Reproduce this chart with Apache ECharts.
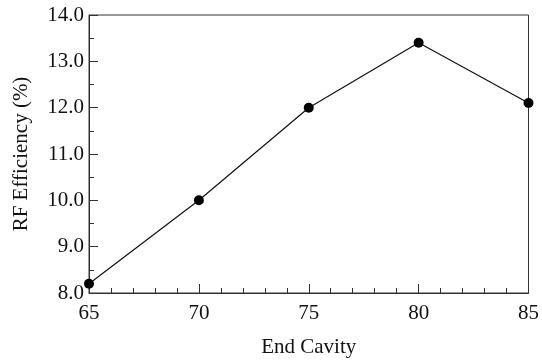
<!DOCTYPE html>
<html>
<head>
<meta charset="utf-8">
<script src="https://cdn.jsdelivr.net/npm/echarts@6/dist/echarts.min.js"></script>
<style>
  html, body { margin: 0; padding: 0; background: #fff; }
  #chart { width: 542px; height: 364px; }
</style>
</head>
<body>
<div id="chart"></div>
<script>
// End cavity number vs. RF efficiency
const endCavity = [65, 70, 75, 80, 85];
const rfEfficiency = [8.2, 10.0, 12.0, 13.4, 12.1];

const xTitle = 'End Cavity';
const yTitle = 'RF Efficiency (%)';

const serif = '"Liberation Serif", "DejaVu Serif", serif';
const ink = '#111';

const chart = echarts.init(document.getElementById('chart'), null, { renderer: 'canvas' });

chart.setOption({
  animation: false,
  backgroundColor: '#fff',
  grid: {
    left: 89, right: 10, top: 15, bottom: 71,
    show: true, borderColor: '#333', borderWidth: 1
  },
  xAxis: {
    type: 'value',
    min: 65, max: 85, interval: 5,
    name: xTitle,
    nameLocation: 'middle',
    nameGap: 44,
    nameTextStyle: { fontFamily: serif, fontSize: 21, color: ink },
    axisLine: { lineStyle: { color: '#333', width: 1 } },
    axisTick: { inside: true, length: 9, lineStyle: { color: '#333' } },
    minorTick: { show: true, splitNumber: 5, length: 5, lineStyle: { color: '#333' } },
    axisLabel: { fontFamily: serif, fontSize: 21, color: ink, margin: 10 },
    splitLine: { show: false }
  },
  yAxis: {
    type: 'value',
    min: 8, max: 14, interval: 1,
    name: yTitle,
    nameLocation: 'middle',
    nameGap: 57,
    nameTextStyle: { fontFamily: serif, fontSize: 21, color: ink },
    axisLine: { show: true, lineStyle: { color: '#333', width: 1 } },
    axisTick: { inside: true, length: 9, lineStyle: { color: '#333' } },
    minorTick: { show: true, splitNumber: 2, length: 5, lineStyle: { color: '#333' } },
    axisLabel: {
      fontFamily: serif, fontSize: 21, color: ink, margin: 5,
      formatter: v => v.toFixed(1)
    },
    splitLine: { show: false }
  },
  series: [{
    type: 'line',
    data: endCavity.map((x, i) => [x, rfEfficiency[i]]),
    symbol: 'circle',
    symbolSize: 10,
    clip: false,
    lineStyle: { color: ink, width: 1.2 },
    itemStyle: { color: '#000' }
  }]
});
</script>
</body>
</html>
